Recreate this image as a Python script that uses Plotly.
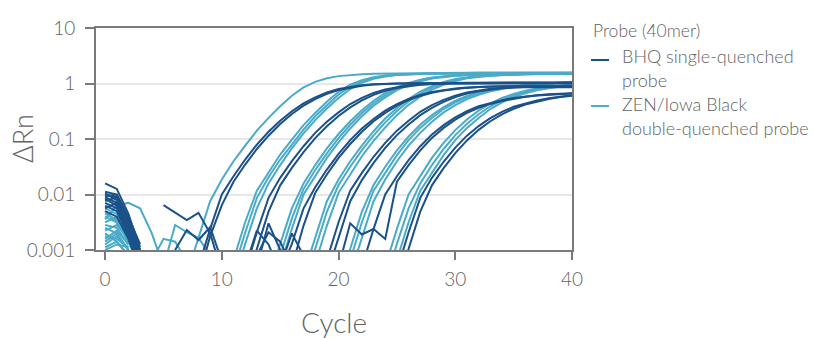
import plotly.graph_objects as go

OFF = None  # below the plotted range (baseline noise under 0.001)
CYCLES = list(range(41))
X_TICKS = [0, 10, 20, 30, 40]
Y_TICKS = [0.001, 0.01, 0.1, 1, 10]
Y_TICK_TEXT = ["0.001", "0.01", "0.1", "1", "10"]

X_TITLE = "Cycle"
Y_TITLE = "ΔRn"
LEGEND_TITLE = "Probe (40mer)"
BHQ_LABEL = ["BHQ single-quenched", "probe"]
ZEN_LABEL = ["ZEN/Iowa Black", "double-quenched probe"]

BHQ_COLOR = "#1b5189"
ZEN_COLOR = "#4aabc8"

# log10(ΔRn) x 100 for each well, cycles 0..40
ZEN_LOG100 = [
    [-245, -220, -215, -225, -270, -330, OFF, -344, -276, -212,
     -173, -140, -112, -85, -62, -41, -22, -7, 3, 9.4,
     13.3, 15.6, 16.8, 17.4, 17.8, 18.2, 18.5, 18.8, 19, 19.2,
     19.4, 19.5, 19.6, 19.7, 19.8, 19.9, 20, 20, 20, 20, 20],
    [-260, -270, -300, *[OFF] * 7,
     -386, -316, -250, -193, -160, -128, -101, -75, -53, -33, -15, -2, 6.1, 11.2, 14.4, 16.2, 17.1, 17.6,
     18, 18.2, 18.4, 18.6, 18.8, 19, 19, 19.2, 19.2, 19.4, 19.4, 19.5, 19.5],
    [-230, -250, -285, -330, *[OFF] * 7,
     -337, -269, -206, -169, -137, -109, -83, -59, -39, -20, -5.4, 4.1, 10, 13.7, 15.8, 16.9, 17.5,
     17.9, 18.1, 18.3, 18.5, 18.6, 18.7, 18.8, 18.9, 19, 19, 19, 19, 19],
    [-280, -265, -290, *[OFF] * 8,
     -358, -289, -225, -180, -147, -117, -90, -66, -45, -26, -10, 1.4, 8.3, 12.6, 15.2, 16.6, 17.3,
     17.7, 17.9, 18, 18.2, 18.3, 18.4, 18.5, 18.5, 18.6, 18.6, 18.7, 18.7, 18.7],
    [-250, -240, -275, -320, OFF, -330, -255, -268, -278, -310, *[OFF] * 4,
     -358, -289, -225, -180, -147, -117, -91, -68, -48, -31, -17, -6.6, 1.2, 7, 10.8, 13.2, 14.6, 15.6,
     16.3, 16.8, 17.2, 17.3, 17.4, 17.5, 17.5, 17.6, 17.6],
    [-270, -285, -310, OFF, -320, -280, -285, -320, *[OFF] * 6,
     -379, -310, -243, -190, -156, -126, -98.5, -74.4, -53.3, -35.5, -21, -9.3, -0.9, 5.5, 9.9, 12.6,
     14.3, 15.3, 16.2, 16.7, 17.1, 17.3, 17.3, 17.4, 17.4, 17.5, 17.5],
    [-290, -275, -300, *[OFF] * 12,
     -330, -262, -200, -166, -134, -106, -81, -59, -40, -25, -12, -3, 4, 9, 12, 14, 15, 16, 16.5, 17,
     17.3, 17.3, 17.3, 17.3, 17.3, 17.3],
    [-235, -245, -270, -310, *[OFF] * 13,
     -344, -276, -212, -173, -140, -112, -86, -63, -44, -28, -14.6, -4.8, 2.6, 8, 11.4, 13.6, 14.8, 15.8,
     16.4, 16.9, 17.2, 17.3, 17.3, 17.3],
    [-265, -255, -280, *[OFF] * 14,
     -365, -296, -231, -183, -150, -120, -93.5, -70, -49.5, -32.5, -18.5, -7.5, 0.5, 6.5, 10.5, 13, 14.5,
     15.5, 16.2, 16.7, 17.1, 17.3, 17.3, 17.3],
    [-300, -290, -295, *[OFF] * 14,
     -393, -323, -256, -197, -163, -131, -103.5, -79, -57, -38.5, -23.7, -11.1, -2.3, 4.5, 9.3, 12.2, 14.1,
     15.1, 16, 16.5, 17, 17.2, 17.3, 17.3],
    [-225, -235, -265, -300, *[OFF] * 16,
     -365, -296, -231, -183, -150, -120.5, -95.5, -74.5, -57, -42.5, -31, -22.5, -16, -11, -7.5, -4.8,
     -2.5, -0.8, 0.8, 2, 3],
    [-255, -260, -290, *[OFF] * 17,
     -386, -316, -250, -193, -160, -129, -102, -80, -62, -46, -34, -24.6, -17.8, -12.2, -8.4, -5.5,
     -3.1, -1.2, 0.3, 1.7, 2.7],
    [-285, -270, -300, *[OFF] * 18,
     -344, -276, -212, -173, -140, -112, -89, -69, -52, -39, -28, -20.4, -14.2, -9.8, -6.6, -4,
     -1.9, -0.3, 1.2, 2.3],
    [-240, -250, -280, -330, *[OFF] * 20,
     -330, -262, -200, -166, -134, -107, -84, -65, -49, -36, -26, -19, -13, -9, -6, -3.5, -1.5],
    [-275, -280, -295, *[OFF] * 21,
     -358, -289, -225, -180, -147, -118, -93, -72.6, -55.4, -41, -30, -21.8, -15.4, -10.6, -7.2, -4.5, -2.3],
    [-295, -285, -310, *[OFF] * 21,
     -386, -316, -250, -193, -160, -129, -102, -80, -62, -46, -34, -24.6, -17.8, -12.2, -8.4, -5.5, -3.1],
]

BHQ_LOG100 = [
    [-195, -200, -240, -290, *[OFF] * 4,
     -330, -262, -200, -167, -137, -110, -87, -67, -50, -36, -25, -16, -10, -6, -3, -1.5, -0.5, 0,
     0.5, 0.5, 1, 1, 1, 1.5, 1.5, 1.5, 1.5, 2, 2, 2, 2, 2, 2],
    [-180, -190, -235, -300, *[OFF] * 4,
     -351, -275, -219, -177, -146, -118, -94, -73, -55, -40, -28, -18.7, -11.8, -7.2, -3.9, -2, -0.8, -0.2,
     0, 0.5, 0.5, 0.5, 1, 1, 1, 1, 1, 1.5, 1.5, 1.5, 1.5, 1.5, 1.5],
    [-200, -205, -250, -310, OFF, -219, -232, -246, -233, -270, -340, OFF,
     -337, -268, -206, -170, -140, -113, -89, -69, -52, -37, -26, -17, -10.6, -6.4, -3.3, -1.6, -0.6, 0,
     0, 0.5, 0.5, 0.5, 1, 1, 1, 1, 1, 1, 1],
    [-205, -215, -260, -320, OFF, OFF, -300, -264, -282, -259, -320, OFF,
     -365, -296, -231, -183.5, -152, -123.5, -98.5, -77, -58.5, -43, -30.5, -20.5, -13, -8, -4.5, -2.2, -1, -0.2,
     0, 0, 0, 0, 0, 0, 0, 0, 0, 0, 0],
    [-198, -210, -255, -300, *[OFF] * 8, -330, -265, -290, -340,
     -289, -225, -187, -155, -127, -102, -81, -64, -49, -37, -28, -20.6, -15.4, -11.8, -9.2, -7.4, -6.1, -5.3,
     -5, -5, -5, -5, -5, -5, -5],
    [-203, -200, -245, -295, *[OFF] * 9, -310, -268, -285, -330,
     -256, -197, -164, -134, -109, -87, -68, -53, -40, -30, -22.4, -16.6, -12.7, -9.8, -7.9, -6.4, -5.5,
     -5, -5, -5, -5, -5, -5, -5],
    [-208, -220, -265, -320, *[OFF] * 9, -330, -252, -300, -340, OFF,
     -386, -316, -250, -193, -161, -132, -107, -85, -67, -51, -39, -29.4, -21.8, -16.2, -12.4, -9.6, -8, -7,
     -6.8, -6.8, -6.8, -6.8, -6.8],
    [-212, -205, -250, -305, *[OFF] * 11, -330, -270, -310, OFF,
     -344, -276, -212, -174, -143, -116, -93, -74, -57, -44, -33, -24.6, -18.2, -13.8, -10.6, -8.4, -6.8, -5.7,
     -5.2, -5, -5, -5],
    [-215, -225, -270, -330, *[OFF] * 16, -330, -252, -272, -262,
     -200, -167, -138, -113, -92, -75, -61, -50, -41, -35, -30, -26, -23, -21, -19.5, -18.5, -17.5],
    [-220, -230, -275, -320, *[OFF] * 18, -330, -262, -280,
     -177, -147, -120.5, -98, -80, -65, -53, -43.7, -36.8, -31.5, -27.2, -23.9, -21.6, -20, -18.8, -17.8],
    [-225, -215, -260, -310, *[OFF] * 21,
     -337, -268, -206, -170, -141, -115.5, -94, -76.7, -62.4, -51, -42, -35.6, -30.5, -26.4, -23.3, -21.2],
    [-230, -240, -280, -340, *[OFF] * 21,
     -365, -296, -231, -183.5, -152.5, -125.5, -102.5, -83.5, -68, -55.5, -45.5, -38, -32.5, -28, -24.5, -22],
]


def to_drn(vals):
    return [None if v is None else 10 ** (v / 100) for v in vals]


fig = go.Figure()
for series, color in ((ZEN_LOG100, ZEN_COLOR), (BHQ_LOG100, BHQ_COLOR)):
    for well in series:
        fig.add_trace(go.Scatter(
            x=CYCLES[:len(well)], y=to_drn(well), mode="lines",
            line=dict(color=color, width=2), hoverinfo="skip", showlegend=False,
        ))

# plot area in pixels: x 96..572, y 28..250
PX_L, PX_R, PX_T, PX_B = 96, 572, 28, 250


def px(x, y):
    return (x - PX_L) / (PX_R - PX_L), (PX_B - y) / (PX_B - PX_T)


TXT = "#636363"
FONT = "Lato, 'Open Sans', sans-serif"
annotations = []
shapes = []


def add_text(text, x, y, size, xanchor="left", angle=0):
    ax, ay = px(x, y)
    annotations.append(dict(text=text, x=ax, y=ay, xref="paper", yref="paper", showarrow=False,
                            xanchor=xanchor, yanchor="middle", textangle=angle,
                            font=dict(family=FONT, size=size, color=TXT, weight=300)))


add_text(Y_TITLE, 22, 139, 27, xanchor="center", angle=-90)
add_text(X_TITLE, 334, 322, 28, xanchor="center")
add_text(LEGEND_TITLE, 591, 31, 17.5)
add_text(BHQ_LABEL[0], 620, 56, 18)
add_text(BHQ_LABEL[1], 620, 80, 18)
add_text(ZEN_LABEL[0], 620, 104, 18)
add_text(ZEN_LABEL[1], 620, 128, 18)

for yy, color in ((60, BHQ_COLOR), (106, ZEN_COLOR)):
    x0, y0 = px(591, yy)
    x1, _ = px(609, yy)
    shapes.append(dict(type="line", xref="paper", yref="paper", x0=x0, x1=x1, y0=y0, y1=y0,
                       line=dict(color=color, width=2)))

AX = "#7a7a7a"
TICKFONT = dict(family=FONT, size=19, color=TXT, weight=300)
fig.update_layout(
    width=814, height=338,
    margin=dict(l=PX_L, r=814 - PX_R, t=PX_T, b=338 - PX_B),
    paper_bgcolor="white", plot_bgcolor="white",
    font=dict(family=FONT, color=TXT),
    showlegend=False,
    annotations=annotations, shapes=shapes,
    xaxis=dict(range=[-0.78, 40], tickvals=X_TICKS, ticks="outside", ticklen=8, tickwidth=2,
               tickcolor=AX, showline=True, linecolor=AX, linewidth=2, mirror=True,
               showgrid=False, zeroline=False, tickfont=TICKFONT, ticklabelstandoff=3),
    yaxis=dict(type="log", range=[-3, 1], tickvals=Y_TICKS, ticktext=Y_TICK_TEXT, ticks="outside",
               ticklen=9, tickwidth=2, tickcolor=AX, showline=True, linecolor=AX, linewidth=2,
               mirror=True, showgrid=True, gridcolor="#e8e8e8", gridwidth=2, zeroline=False,
               tickfont=TICKFONT, ticklabelstandoff=6),
)

fig.write_html("out.html", config={"displayModeBar": False},
               post_script="document.body.style.margin='0';")
